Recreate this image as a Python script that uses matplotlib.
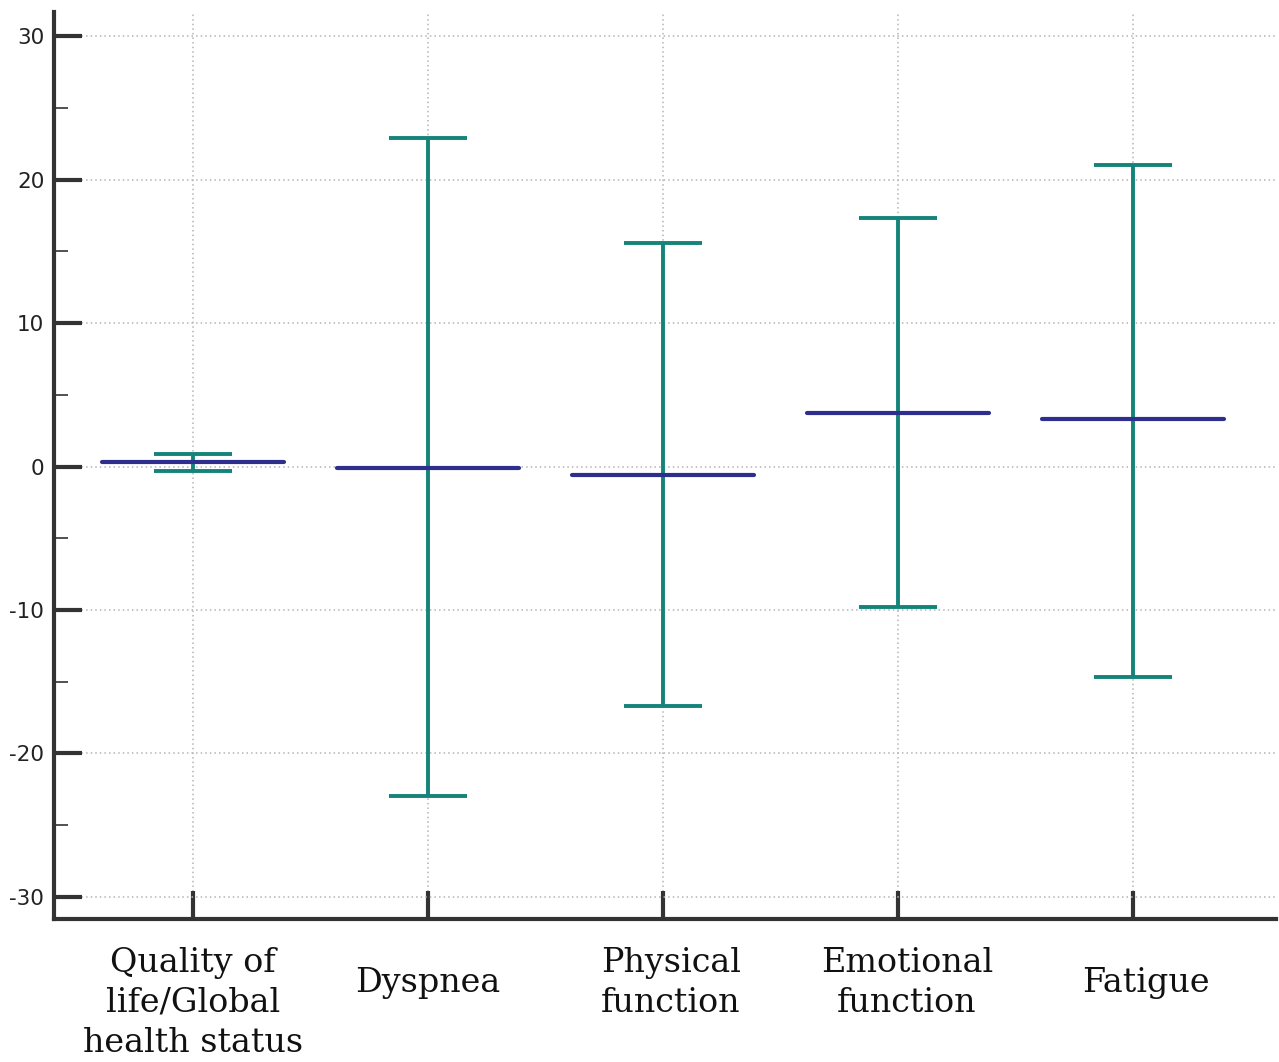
import matplotlib
matplotlib.use("Agg")
import matplotlib.pyplot as plt
import matplotlib.transforms as mtransforms
import numpy as np
from matplotlib.ticker import MultipleLocator

categories = ["Quality of\nlife/Global\nhealth status", "Dyspnea", "Physical\nfunction",
              "Emotional\nfunction", "Fatigue"]
means = [0.3, -0.1, -0.6, 3.7, 3.3]
upper = [0.9, 22.9, 15.6, 17.3, 21.0]
lower = [-0.3, -23.0, -16.7, -9.8, -14.7]
yticks = [-30, -20, -10, 0, 10, 20, 30]

mean_color = "#2e2f8c"
err_color = "#14847a"
spine_color = "#333333"

fig = plt.figure(figsize=(12.79, 10.62), dpi=100)
ax = fig.add_axes([0.0422, 0.1347, 0.9558, 0.854])

x = np.arange(1, len(categories) + 1)
means_a = np.array(means)
yerr = np.vstack([means_a - np.array(lower), np.array(upper) - means_a])

ax.errorbar(x, means, yerr=yerr, fmt="none", ecolor=err_color, elinewidth=2.8,
            capsize=28, capthick=2.8, zorder=3)
ax.hlines(means, x - 0.387, x + 0.387, colors=mean_color, linewidth=3.0,
          zorder=4, capstyle="round")

ax.set_xlim(0.41, 5.61)
ax.set_ylim(-31.55, 31.7)

ax.set_yticks(yticks)
ax.set_yticklabels([str(t) for t in yticks], fontsize=15.5, color="#222222")
ax.yaxis.set_minor_locator(MultipleLocator(5))
ax.set_xticks(x)
ax.set_xticklabels([])

ax.tick_params(axis="y", which="major", direction="in", length=20, width=3,
               color=spine_color, pad=7)
ax.tick_params(axis="y", which="minor", direction="in", length=10, width=1.2,
               color=spine_color)
ax.tick_params(axis="x", which="major", direction="in", length=20, width=3,
               color=spine_color)

ax.grid(True, which="major", linestyle=(0, (1, 2)), color="#b4b4b4", linewidth=1.1)
ax.set_axisbelow(True)

for s in ["top", "right"]:
    ax.spines[s].set_visible(False)
for s in ["left", "bottom"]:
    ax.spines[s].set_linewidth(3)
    ax.spines[s].set_color(spine_color)

trans = mtransforms.blended_transform_factory(ax.transData, fig.transFigure)
label_dx = [0, 0, 8, 9, 13]
for xi, lab, dx in zip(x, categories, label_dx):
    nlines = lab.count("\n") + 1
    yc = 1 - (1003 if nlines == 3 else 983) / 1062
    t = trans + mtransforms.ScaledTranslation(dx / 100, 0, fig.dpi_scale_trans)
    ax.text(xi, yc, lab, transform=t, ha="center", va="center",
            fontsize=24, family="DejaVu Serif", color="#111111", linespacing=1.32)

fig.savefig("out.png", dpi=100)
